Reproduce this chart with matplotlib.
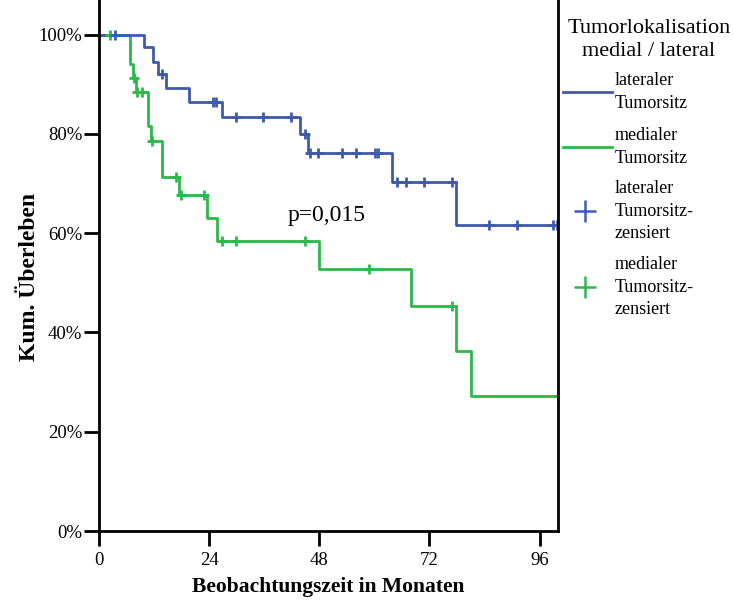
import numpy as np
import matplotlib

matplotlib.use("Agg")
import matplotlib.pyplot as plt
from matplotlib.lines import Line2D

plt.rcParams["font.family"] = ["Liberation Serif", "DejaVu Serif"]

BLUE = "#3E5BAA"
GREEN = "#2DB84A"
W, H = 734, 601

# Kaplan-Meier steps (months, survival %)
LAT_T = [0, 9.7, 11.8, 12.9, 14.7, 19.7, 26.7, 43.8, 45.6, 63.9, 77.8, 100]
LAT_S = [100, 97.6, 94.6, 92.1, 89.2, 86.5, 83.4, 79.9, 76.2, 70.3, 61.6, 61.6]
LAT_CENS = [3.5, 13.7, 24.9, 25.5, 29.8, 35.8, 41.8, 44.9, 45.9, 47.8, 52.9,
            56.0, 60.1, 60.8, 64.9, 66.9, 70.9, 76.8, 85.0, 91.0, 99.0, 99.7]

MED_T = [0, 6.8, 7.3, 8.0, 10.7, 11.3, 13.7, 17.5, 23.6, 25.6, 47.9, 67.9, 77.8, 81.0, 100]
MED_S = [100, 94.2, 91.2, 88.4, 81.7, 78.5, 71.4, 67.7, 63.0, 58.5, 52.7, 45.3, 36.3, 27.2, 27.2]
MED_CENS = [2.5, 7.6, 8.3, 9.3, 11.6, 16.8, 17.8, 22.9, 26.9, 29.8, 44.9, 58.9, 76.8, 99.9]

X_TICKS = [0, 24, 48, 72, 96]
Y_TICKS = [0, 20, 40, 60, 80, 100]

LEGEND_TITLE = "Tumorlokalisation\nmedial / lateral"
LEGEND_LABELS = [
    "lateraler\nTumorsitz",
    "medialer\nTumorsitz",
    "lateraler\nTumorsitz-\nzensiert",
    "medialer\nTumorsitz-\nzensiert",
]


def level_at(times, surv, t):
    idx = np.searchsorted(times, t, side="right") - 1
    return np.asarray(surv)[idx]


fig = plt.figure(figsize=(W / 100, H / 100), dpi=100)
ax = fig.add_axes([99 / W, 70 / H, 459 / W, 531 / H])

ax.step(MED_T, MED_S, where="post", color=GREEN, lw=2)
ax.step(LAT_T, LAT_S, where="post", color=BLUE, lw=2)
ax.plot(MED_CENS, level_at(MED_T, MED_S, MED_CENS), ls="none", marker="+",
        ms=7, mew=2, color=GREEN)
ax.plot(LAT_CENS, level_at(LAT_T, LAT_S, LAT_CENS), ls="none", marker="+",
        ms=7, mew=2, color=BLUE)

ax.text(41, 63.6, "p=0,015", fontsize=17, va="center", ha="left")

ax.set_xlim(0, 100)
ax.set_ylim(0, 107)
ax.set_xticks(X_TICKS)
ax.set_yticks(Y_TICKS)
ax.set_yticklabels([f"{v}%" for v in Y_TICKS])
ax.tick_params(length=11, width=2, labelsize=13.5)
ax.tick_params(axis="x", pad=4)
ax.tick_params(axis="y", pad=1)
for s in ["left", "bottom", "right"]:
    ax.spines[s].set_linewidth(2)
ax.spines["top"].set_visible(False)

ax.set_xlabel("Beobachtungszeit in Monaten", fontsize=15.5, fontweight="bold", labelpad=6)
ax.set_ylabel("Kum. Überleben", fontsize=17, fontweight="bold", labelpad=-1)
ax.yaxis.label.set_y(0.478)

# hand-placed legend to the right of the plot (pixel positions from the top)
fig.text(649 / W, 1 - 40 / H, LEGEND_TITLE, fontsize=16, ha="center",
         va="center", multialignment="center", linespacing=1.25)
entry_y = [92, 147, 211, 287]
for k, (label, y) in enumerate(zip(LEGEND_LABELS, entry_y)):
    fy = 1 - y / H
    color = BLUE if k % 2 == 0 else GREEN
    if k < 2:
        fig.add_artist(Line2D([563 / W, 612 / W], [fy, fy], color=color, lw=2,
                              transform=fig.transFigure))
    else:
        fig.add_artist(Line2D([585 / W], [fy], color=color, ls="none", marker="+",
                              ms=16, mew=1.8, transform=fig.transFigure))
    fig.text(615 / W, fy, label, fontsize=13, ha="left", va="center",
             linespacing=1.4)

fig.savefig("out.png", dpi=100)
